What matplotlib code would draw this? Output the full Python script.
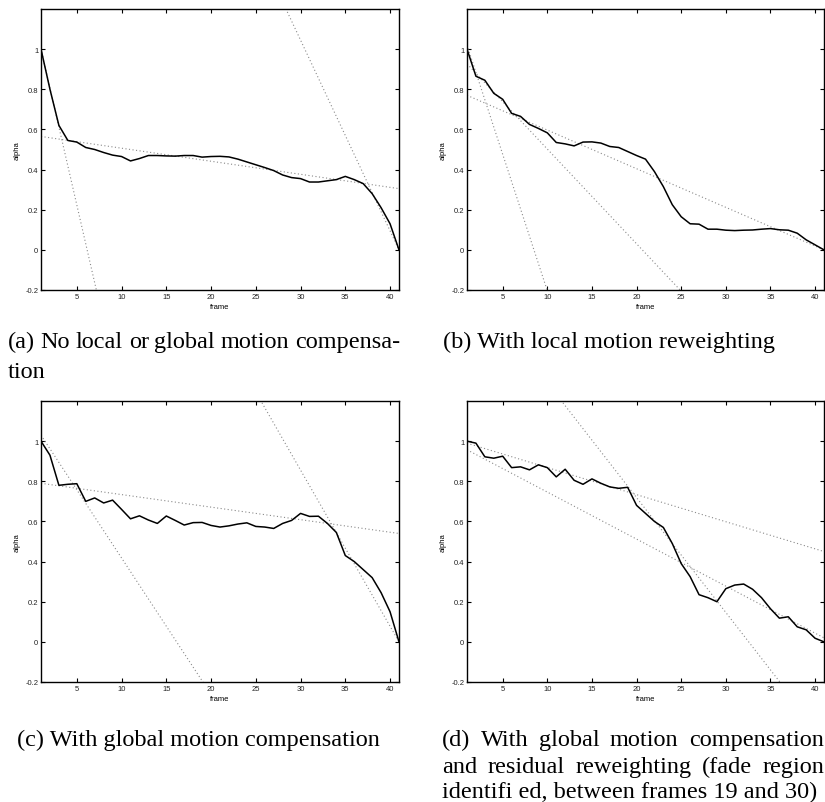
import numpy as np
import matplotlib
matplotlib.use('Agg')
import matplotlib.pyplot as plt

# frames 1..41
frames = list(range(1, 42))

alpha_a = [1.0, 0.80, 0.62, 0.545, 0.537, 0.51, 0.50, 0.485, 0.472, 0.465,
           0.443, 0.455, 0.47, 0.47, 0.468, 0.467, 0.47, 0.47, 0.462, 0.465,
           0.466, 0.463, 0.452, 0.438, 0.424, 0.41, 0.395, 0.373, 0.36, 0.355,
           0.338, 0.338, 0.344, 0.35, 0.366, 0.35, 0.33, 0.28, 0.21, 0.13, 0.0]
alpha_b = [1.0, 0.865, 0.845, 0.78, 0.75, 0.68, 0.665, 0.625, 0.605, 0.583,
           0.535, 0.528, 0.518, 0.537, 0.538, 0.532, 0.515, 0.51, 0.49, 0.47,
           0.452, 0.39, 0.315, 0.225, 0.165, 0.13, 0.128, 0.103, 0.103, 0.098,
           0.096, 0.098, 0.099, 0.103, 0.106, 0.10, 0.098, 0.083, 0.05, 0.025, 0.0]
alpha_c = [1.0, 0.93, 0.78, 0.785, 0.788, 0.70, 0.717, 0.692, 0.706, 0.66,
           0.613, 0.628, 0.607, 0.59, 0.627, 0.605, 0.582, 0.594, 0.595, 0.58,
           0.572, 0.578, 0.587, 0.593, 0.575, 0.572, 0.565, 0.59, 0.605, 0.64,
           0.625, 0.626, 0.59, 0.545, 0.43, 0.40, 0.36, 0.32, 0.245, 0.15, 0.0]
alpha_d = [1.0, 0.99, 0.922, 0.915, 0.925, 0.868, 0.872, 0.857, 0.882, 0.868,
           0.822, 0.86, 0.805, 0.785, 0.812, 0.79, 0.772, 0.765, 0.77, 0.68,
           0.64, 0.60, 0.57, 0.49, 0.39, 0.325, 0.235, 0.22, 0.20, 0.265,
           0.283, 0.288, 0.262, 0.22, 0.165, 0.118, 0.125, 0.075, 0.06, 0.018, 0.0]

# fitted lines: value at frame 1 and at frame 41
fits_a = [(0.565, 0.305), (1.0, -6.76), (3.8, 0.0)]
fits_b = [(0.77, 0.0), (0.927, -0.961), (1.02, -4.42)]
fits_c = [(0.79, 0.54), (1.03, -1.69), (3.112, 0.0)]
fits_d = [(0.99, 0.45), (0.957, 0.02), (1.806, -0.483)]

xticks = [5, 10, 15, 20, 25, 30, 35, 40]
yticks = [-0.2, 0, 0.2, 0.4, 0.6, 0.8, 1]
ytick_labels = ['-0.2', '0', '0.2', '0.4', '0.6', '0.8', '1']

captions = {
    'a': ['(a) No local or global motion compensa-', 'tion'],
    'b': ['(b) With local motion reweighting'],
    'c': ['(c) With global motion compensation'],
    'd': ['(d) With global motion compensation',
          'and residual reweighting (fade region',
          'identifi ed, between frames 19 and 30)'],
}

W, H = 825, 803
fig = plt.figure(figsize=(W / 100, H / 100), dpi=100)

tick_font = dict(family='Liberation Sans', size=5.5)
cap_font = dict(family='Liberation Serif', size=17.5)


def make_panel(rect, alpha, fits):
    ax = fig.add_axes(rect)
    for y0, y1 in fits:
        ax.plot([frames[0], frames[-1]], [y0, y1], color='#8a8a8a',
                lw=0.8, linestyle=(0, (1, 2.2)))
    ax.plot(frames, alpha, color='black', lw=1.1)
    ax.set_xlim(1, 41)
    ax.set_ylim(-0.2, 1.2)
    ax.set_xticks(xticks)
    ax.set_xticklabels([str(t) for t in xticks], fontdict=tick_font)
    ax.set_yticks(yticks)
    ax.set_yticklabels(ytick_labels, fontdict=tick_font)
    ax.tick_params(direction='in', length=3, width=0.8, top=True, right=True,
                   pad=2, colors='black', labelcolor='#222222')
    for s in ax.spines.values():
        s.set_linewidth(1.0)
    ax.set_xlabel('frame', fontdict=tick_font, labelpad=2)
    ax.set_ylabel('alpha', fontdict=tick_font, labelpad=3)
    return ax


def px_rect(left, top, right, bottom):
    return [left / W, 1 - bottom / H, (right - left) / W, (bottom - top) / H]


make_panel(px_rect(41, 10, 399, 291), alpha_a, fits_a)
make_panel(px_rect(467, 10, 824, 291), alpha_b, fits_b)
make_panel(px_rect(41, 402, 399, 683), alpha_c, fits_c)
make_panel(px_rect(467, 402, 824, 683), alpha_d, fits_d)

renderer = fig.canvas.get_renderer()


def put_text(s, x, y):
    return fig.text(x / W, 1 - y / H, s, ha='left', va='baseline', fontdict=cap_font)


def justified(s, x0, x1, y):
    words = s.split(' ')
    widths = []
    for w in words:
        t = put_text(w, 0, y)
        widths.append(t.get_window_extent(renderer).width)
        t.remove()
    gap = (x1 - x0 - sum(widths)) / (len(words) - 1)
    x = x0
    for w, wd in zip(words, widths):
        put_text(w, x, y)
        x += wd + gap


justified(captions['a'][0], 8, 400, 348)
put_text(captions['a'][1], 8, 378)
put_text(captions['b'][0], 443, 348)
put_text(captions['c'][0], 17, 746)
justified(captions['d'][0], 442, 824, 746)
justified(captions['d'][1], 442, 824, 773)
put_text(captions['d'][2], 442, 798)

fig.savefig('out.png', dpi=100)
